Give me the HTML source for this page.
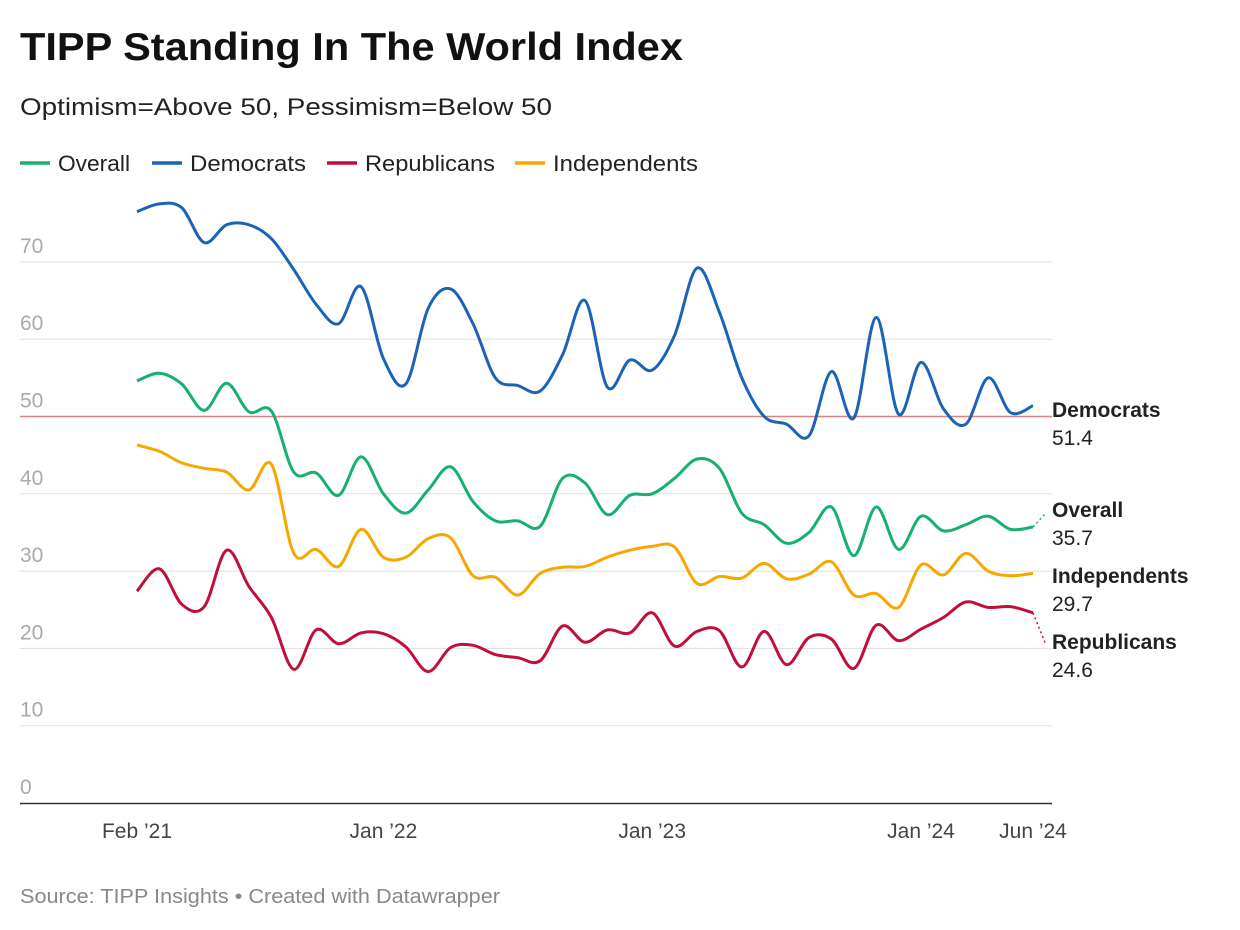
<!DOCTYPE html>
<html><head><meta charset="utf-8">
<style>
body{margin:0;background:#fff;font-family:"Liberation Sans",Arial,sans-serif;}
#wrap{position:relative;width:1240px;height:930px;overflow:hidden;}
</style></head>
<body>
<div id="wrap">
<svg id="chart" width="1240" height="930" xmlns="http://www.w3.org/2000/svg">
<text x="20" y="60" font-size="39" font-weight="bold" fill="#111" textLength="663" lengthAdjust="spacingAndGlyphs">TIPP Standing In The World Index</text>
<text x="20" y="115" font-size="24" fill="#222" textLength="532" lengthAdjust="spacingAndGlyphs">Optimism=Above 50, Pessimism=Below 50</text>
<g id="legend"></g>
<g id="grid"></g>
<g id="series"></g>
<g id="labels"></g>
<text x="20" y="903" font-size="20" fill="#888" textLength="480" lengthAdjust="spacingAndGlyphs">Source: TIPP Insights • Created with Datawrapper</text>
</svg>
</div>
<script>
const yTicks=[0,10,20,30,40,50,60,70];
const xTickLabels=["Feb ’21","Jan ’22","Jan ’23","Jan ’24","Jun ’24"];
const xTickMonths=[0,11,23,35,40];
const seriesNames=["Overall","Democrats","Republicans","Independents"];
const overall=[54.6,55.6,54.2,50.8,54.3,50.6,50.7,42.8,42.7,39.8,44.8,40,37.5,40.5,43.5,39,36.5,36.5,35.8,42,41.4,37.3,39.8,40,42,44.5,43.3,37.5,36,33.6,35,38.3,32,38.3,32.8,37.1,35.2,36,37.1,35.4,35.7];
const democrats=[76.5,77.5,77,72.5,74.8,74.8,73,69,64.5,62,66.8,57.5,54.2,64,66.5,62,55,54,53.3,58,65,53.8,57.3,56,60.5,69.2,63.5,55,50,49,47.5,55.8,49.8,62.8,50.3,57,51,49,55,50.5,51.4];
const republicans=[27.4,30.3,25.7,25.4,32.7,28,24,17.3,22.4,20.6,22,21.9,20.2,17,20.1,20.4,19.2,18.8,18.4,22.9,20.8,22.4,22,24.6,20.3,22.2,22.3,17.6,22.2,17.9,21.4,21.2,17.4,23,21,22.5,24,26,25.3,25.4,24.6];
const independents=[46.3,45.5,44,43.3,42.8,40.5,43.8,32.3,32.8,30.6,35.4,31.8,31.8,34.2,34.3,29.4,29.2,26.9,29.7,30.5,30.6,31.8,32.7,33.2,33.1,28.4,29.3,29.1,31,29,29.6,31.2,26.9,27.1,25.3,30.8,29.5,32.3,30,29.4,29.7];
const referenceValue=50;

const NS="http://www.w3.org/2000/svg";
const colors={Overall:"#16b06f",Democrats:"#1c63b8",Republicans:"#c0103a",Independents:"#f6a800"};
const dataMap={Overall:overall,Democrats:democrats,Republicans:republicans,Independents:independents};
function x(m){return 137+22.4*m;}
function y(v){return 803-7.73*v;}
function mk(tag,attrs,parent){const e=document.createElementNS(NS,tag);for(const k in attrs)e.setAttribute(k,attrs[k]);parent.appendChild(e);return e;}
const grid=document.getElementById('grid');
yTicks.forEach(t=>{
  if(t>0){const l=mk('line',{x1:20,x2:1052,y1:y(t),y2:y(t),stroke:'#ddd','stroke-width':1},grid);
  
  }
  const tx=mk('text',{x:20,y:y(t)-9,'font-size':21,fill:'#aaa'},grid);
  
  
  tx.textContent=t;
});
const base=mk('line',{x1:20,x2:1052,y1:y(0)+0.5,y2:y(0)+0.5,stroke:'#333','stroke-width':1.5},grid);


const ref=mk('line',{x1:20,x2:1052,y1:y(referenceValue),y2:y(referenceValue),stroke:'#e08080','stroke-width':1.5},grid);


xTickLabels.forEach((lab,i)=>{
  const tx=mk('text',{x:x(xTickMonths[i]),y:838,'font-size':21,fill:'#444','text-anchor':'middle'},grid);
  
  
  tx.textContent=lab;
});
function path(vals){
  const p=vals.map((v,i)=>[x(i),y(v)]);
  let d="M"+p[0][0]+","+p[0][1];
  for(let i=0;i<p.length-1;i++){
    const p0=p[i-1]||p[i],p1=p[i],p2=p[i+1],p3=p[i+2]||p2;
    const c1=[p1[0]+(p2[0]-p0[0])/6,p1[1]+(p2[1]-p0[1])/6];
    const c2=[p2[0]-(p3[0]-p1[0])/6,p2[1]-(p3[1]-p1[1])/6];
    d+=`C${c1[0]},${c1[1]} ${c2[0]},${c2[1]} ${p2[0]},${p2[1]}`;
  }
  return d;
}
const sg=document.getElementById('series');
["Independents","Republicans","Overall","Democrats"].forEach(n=>{
  const e=mk('path',{d:path(dataMap[n]),fill:'none',stroke:colors[n],'stroke-width':3,'stroke-linejoin':'round'},sg);
  
  
});
const lg=document.getElementById('labels');
const labY={Democrats:410,Overall:510,Independents:576,Republicans:642};
seriesNames.forEach(n=>{
  const vals=dataMap[n],last=vals[vals.length-1];
  const ly=labY[n]-5;
  if(Math.abs(y(last)-ly)>8){
    const dl=mk('line',{x1:x(40),y1:y(last),x2:1046,y2:ly+8,stroke:colors[n],'stroke-width':1.5,'stroke-dasharray':'2,3'},lg);
    
    
  }
  const t1=mk('text',{x:1052,y:labY[n]+7,'font-size':21,'font-weight':'bold',fill:'#222'},lg);
  
  
  t1.textContent=n;
  const t2=mk('text',{x:1052,y:labY[n]+35,'font-size':21,fill:'#222'},lg);
  
  
  t2.textContent=last.toFixed(1);
});
const leg=document.getElementById('legend');
const legX=[20,152,327,515];
const legW=[72,116,130,145];
seriesNames.forEach((n,i)=>{
  const g=mk('g',{},leg);
  
  
  mk('line',{x1:legX[i],x2:legX[i]+30,y1:163,y2:163,stroke:colors[n],'stroke-width':3.5},g);
  const t=mk('text',{x:legX[i]+38,y:171,'font-size':22,fill:'#222',textLength:legW[i],lengthAdjust:'spacingAndGlyphs'},g);
  t.textContent=n;
});
</script>
</body></html>
